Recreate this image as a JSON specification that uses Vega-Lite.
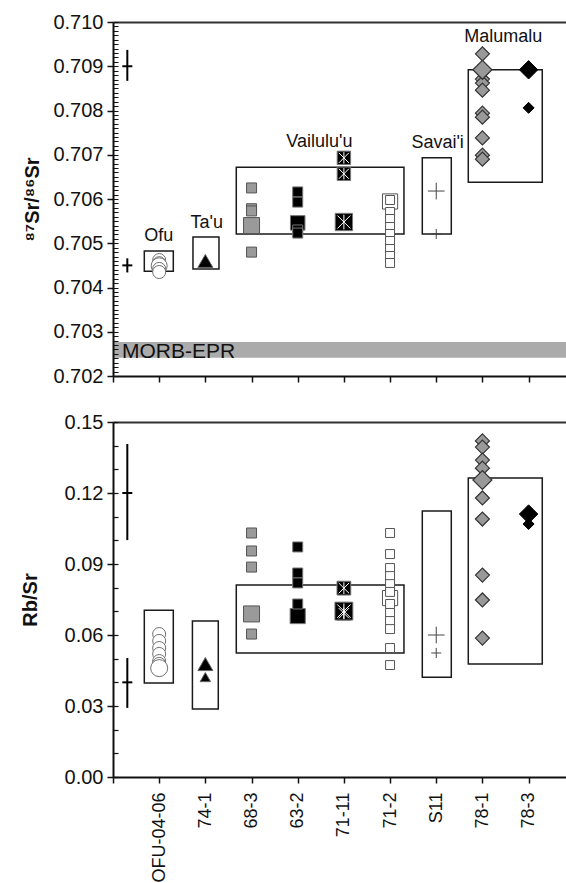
{
"$schema":"https://vega.github.io/schema/vega-lite/v6.json",
"background":"white",
"padding":{"left":20,"top":12,"right":0,"bottom":0},
"config":{"view":{"stroke":null},"font":"Liberation Sans","axis":{"labelFont":"Liberation Sans","titleFont":"Liberation Sans","labelColor":"#111","tickColor":"#111","domainColor":"#111","titleColor":"#111","grid":false}},
"datasets":{
"morb":[{"xlo":0,"xhi":9.81,"lo":0.70241,"hi":0.70277}],
"morbtext":[{"label":"MORB-EPR","pos":0.195,"value":0.702414}],
"ann":[{"label":"Ofu","pos":0.99,"value":0.70505},{"label":"Ta'u","pos":2.03,"value":0.70535},{"label":"Vailulu'u","pos":4.47,"value":0.70718},{"label":"Savai'i","pos":7.03,"value":0.70716},{"label":"Malumalu","pos":8.45,"value":0.709555}],
"boxes":[
{"panel":"Sr","xlo":0.678,"xhi":1.306,"lo":0.70437,"hi":0.704825},
{"panel":"Sr","xlo":1.732,"xhi":2.295,"lo":0.70442,"hi":0.70514},
{"panel":"Sr","xlo":2.67,"xhi":6.301,"lo":0.70521,"hi":0.70672},
{"panel":"Sr","xlo":6.698,"xhi":7.326,"lo":0.70521,"hi":0.70693},
{"panel":"Sr","xlo":7.694,"xhi":9.296,"lo":0.70638,"hi":0.70892},
{"panel":"Rb","xlo":0.678,"xhi":1.306,"lo":0.0397,"hi":0.0705},
{"panel":"Rb","xlo":1.72,"xhi":2.28,"lo":0.0287,"hi":0.0659},
{"panel":"Rb","xlo":2.67,"xhi":6.301,"lo":0.0524,"hi":0.0811},
{"panel":"Rb","xlo":6.698,"xhi":7.326,"lo":0.0422,"hi":0.1124},
{"panel":"Rb","xlo":7.694,"xhi":9.296,"lo":0.0477,"hi":0.1263}
],
"err":[
{"panel":"Sr","pos":0.31,"lo":0.70867,"mid":0.709,"hi":0.70937},
{"panel":"Sr","pos":0.31,"lo":0.70434,"mid":0.7045,"hi":0.70466},
{"panel":"Rb","pos":0.31,"lo":0.1001,"mid":0.12,"hi":0.1407},
{"panel":"Rb","pos":0.31,"lo":0.0292,"mid":0.04,"hi":0.0503}
],
"pts":[
{"panel":"Sr","sample":"OFU-04-06","pos":1,"value":0.70462,"kind":"single"},
{"panel":"Sr","sample":"OFU-04-06","pos":1,"value":0.70455,"kind":"single"},
{"panel":"Sr","sample":"OFU-04-06","pos":1,"value":0.70449,"kind":"mean"},
{"panel":"Sr","sample":"OFU-04-06","pos":1,"value":0.70442,"kind":"single"},
{"panel":"Sr","sample":"OFU-04-06","pos":1,"value":0.70435,"kind":"single"},
{"panel":"Sr","sample":"74-1","pos":2,"value":0.70462,"kind":"single"},
{"panel":"Sr","sample":"74-1","pos":2,"value":0.7046,"kind":"mean"},
{"panel":"Sr","sample":"68-3","pos":3,"value":0.70625,"kind":"single"},
{"panel":"Sr","sample":"68-3","pos":3,"value":0.70578,"kind":"single"},
{"panel":"Sr","sample":"68-3","pos":3,"value":0.70573,"kind":"single"},
{"panel":"Sr","sample":"68-3","pos":3,"value":0.7054,"kind":"mean"},
{"panel":"Sr","sample":"68-3","pos":3,"value":0.7048,"kind":"single"},
{"panel":"Sr","sample":"63-2","pos":4,"value":0.70616,"kind":"single"},
{"panel":"Sr","sample":"63-2","pos":4,"value":0.70593,"kind":"single"},
{"panel":"Sr","sample":"63-2","pos":4,"value":0.70546,"kind":"mean"},
{"panel":"Sr","sample":"63-2","pos":4,"value":0.7053,"kind":"single"},
{"panel":"Sr","sample":"63-2","pos":4,"value":0.70523,"kind":"single"},
{"panel":"Sr","sample":"71-11","pos":5,"value":0.70693,"kind":"single"},
{"panel":"Sr","sample":"71-11","pos":5,"value":0.70657,"kind":"single"},
{"panel":"Sr","sample":"71-11","pos":5,"value":0.70548,"kind":"mean"},
{"panel":"Sr","sample":"71-2","pos":6,"value":0.705944,"kind":"mean"},
{"panel":"Sr","sample":"71-2","pos":6,"value":0.705977,"kind":"single"},
{"panel":"Sr","sample":"71-2","pos":6,"value":0.705706,"kind":"single"},
{"panel":"Sr","sample":"71-2","pos":6,"value":0.705548,"kind":"single"},
{"panel":"Sr","sample":"71-2","pos":6,"value":0.705367,"kind":"single"},
{"panel":"Sr","sample":"71-2","pos":6,"value":0.705209,"kind":"single"},
{"panel":"Sr","sample":"71-2","pos":6,"value":0.705051,"kind":"single"},
{"panel":"Sr","sample":"71-2","pos":6,"value":0.70487,"kind":"single"},
{"panel":"Sr","sample":"71-2","pos":6,"value":0.704712,"kind":"single"},
{"panel":"Sr","sample":"71-2","pos":6,"value":0.704554,"kind":"single"},
{"panel":"Sr","sample":"S11","pos":7,"value":0.70618,"kind":"mean"},
{"panel":"Sr","sample":"S11","pos":7,"value":0.70521,"kind":"single"},
{"panel":"Sr","sample":"78-1","pos":8,"value":0.70928,"kind":"single"},
{"panel":"Sr","sample":"78-1","pos":8,"value":0.70871,"kind":"single"},
{"panel":"Sr","sample":"78-1","pos":8,"value":0.70862,"kind":"single"},
{"panel":"Sr","sample":"78-1","pos":8,"value":0.70846,"kind":"single"},
{"panel":"Sr","sample":"78-1","pos":8,"value":0.70794,"kind":"single"},
{"panel":"Sr","sample":"78-1","pos":8,"value":0.70785,"kind":"single"},
{"panel":"Sr","sample":"78-1","pos":8,"value":0.70738,"kind":"single"},
{"panel":"Sr","sample":"78-1","pos":8,"value":0.70699,"kind":"single"},
{"panel":"Sr","sample":"78-1","pos":8,"value":0.7069,"kind":"single"},
{"panel":"Sr","sample":"78-1","pos":8,"value":0.70892,"kind":"mean"},
{"panel":"Sr","sample":"78-3","pos":9,"value":0.70892,"kind":"mean"},
{"panel":"Sr","sample":"78-3","pos":9,"value":0.70806,"kind":"single"},
{"panel":"Rb","sample":"OFU-04-06","pos":1,"value":0.0604,"kind":"single"},
{"panel":"Rb","sample":"OFU-04-06","pos":1,"value":0.0575,"kind":"single"},
{"panel":"Rb","sample":"OFU-04-06","pos":1,"value":0.0545,"kind":"single"},
{"panel":"Rb","sample":"OFU-04-06","pos":1,"value":0.052,"kind":"single"},
{"panel":"Rb","sample":"OFU-04-06","pos":1,"value":0.049,"kind":"single"},
{"panel":"Rb","sample":"OFU-04-06","pos":1,"value":0.0478,"kind":"single"},
{"panel":"Rb","sample":"OFU-04-06","pos":1,"value":0.046,"kind":"mean"},
{"panel":"Rb","sample":"74-1","pos":2,"value":0.0477,"kind":"mean"},
{"panel":"Rb","sample":"74-1","pos":2,"value":0.0422,"kind":"single"},
{"panel":"Rb","sample":"68-3","pos":3,"value":0.1031,"kind":"single"},
{"panel":"Rb","sample":"68-3","pos":3,"value":0.0955,"kind":"single"},
{"panel":"Rb","sample":"68-3","pos":3,"value":0.0887,"kind":"single"},
{"panel":"Rb","sample":"68-3","pos":3,"value":0.0689,"kind":"mean"},
{"panel":"Rb","sample":"68-3","pos":3,"value":0.0604,"kind":"single"},
{"panel":"Rb","sample":"63-2","pos":4,"value":0.0972,"kind":"single"},
{"panel":"Rb","sample":"63-2","pos":4,"value":0.0862,"kind":"single"},
{"panel":"Rb","sample":"63-2","pos":4,"value":0.082,"kind":"single"},
{"panel":"Rb","sample":"63-2","pos":4,"value":0.068,"kind":"mean"},
{"panel":"Rb","sample":"63-2","pos":4,"value":0.0731,"kind":"single"},
{"panel":"Rb","sample":"71-11","pos":5,"value":0.0798,"kind":"single"},
{"panel":"Rb","sample":"71-11","pos":5,"value":0.0692,"kind":"single"},
{"panel":"Rb","sample":"71-11","pos":5,"value":0.0701,"kind":"mean"},
{"panel":"Rb","sample":"71-2","pos":6,"value":0.0756,"kind":"mean"},
{"panel":"Rb","sample":"71-2","pos":6,"value":0.1031,"kind":"single"},
{"panel":"Rb","sample":"71-2","pos":6,"value":0.0942,"kind":"single"},
{"panel":"Rb","sample":"71-2","pos":6,"value":0.0883,"kind":"single"},
{"panel":"Rb","sample":"71-2","pos":6,"value":0.0849,"kind":"single"},
{"panel":"Rb","sample":"71-2","pos":6,"value":0.0815,"kind":"single"},
{"panel":"Rb","sample":"71-2","pos":6,"value":0.0782,"kind":"single"},
{"panel":"Rb","sample":"71-2","pos":6,"value":0.0731,"kind":"single"},
{"panel":"Rb","sample":"71-2","pos":6,"value":0.0693,"kind":"single"},
{"panel":"Rb","sample":"71-2","pos":6,"value":0.0659,"kind":"single"},
{"panel":"Rb","sample":"71-2","pos":6,"value":0.0625,"kind":"single"},
{"panel":"Rb","sample":"71-2","pos":6,"value":0.0545,"kind":"single"},
{"panel":"Rb","sample":"71-2","pos":6,"value":0.0473,"kind":"single"},
{"panel":"Rb","sample":"S11","pos":7,"value":0.06,"kind":"mean"},
{"panel":"Rb","sample":"S11","pos":7,"value":0.0524,"kind":"single"},
{"panel":"Rb","sample":"78-1","pos":8,"value":0.142,"kind":"single"},
{"panel":"Rb","sample":"78-1","pos":8,"value":0.1394,"kind":"single"},
{"panel":"Rb","sample":"78-1","pos":8,"value":0.1339,"kind":"single"},
{"panel":"Rb","sample":"78-1","pos":8,"value":0.1305,"kind":"single"},
{"panel":"Rb","sample":"78-1","pos":8,"value":0.1179,"kind":"single"},
{"panel":"Rb","sample":"78-1","pos":8,"value":0.109,"kind":"single"},
{"panel":"Rb","sample":"78-1","pos":8,"value":0.0853,"kind":"single"},
{"panel":"Rb","sample":"78-1","pos":8,"value":0.0748,"kind":"single"},
{"panel":"Rb","sample":"78-1","pos":8,"value":0.0587,"kind":"single"},
{"panel":"Rb","sample":"78-1","pos":8,"value":0.1255,"kind":"mean"},
{"panel":"Rb","sample":"78-3","pos":9,"value":0.1111,"kind":"mean"},
{"panel":"Rb","sample":"78-3","pos":9,"value":0.1069,"kind":"single"}
]
},
"bounds":"flush",
"spacing":46,
"vconcat":[
{"width":453,"height":354,"resolve":{"axis":{"x":"independent","y":"independent"}},"layer":[
{"data":{"name":"morb"},"mark":{"type":"rect","fill":"#ababab"},"encoding":{
"x":{"field":"xlo","type":"quantitative","scale":{"domain":[0,9.81],"nice":false,"zero":false},"axis":{"orient":"bottom","values":[0,1,2,3,4,5,6,7,8,9],"labels":false,"tickSize":6,"tickWidth":1.5,"domainWidth":2,"title":null}},
"x2":{"field":"xhi"},
"y":{"field":"lo","type":"quantitative","scale":{"domain":[0.702,0.71],"nice":false,"zero":false},"axis":{"orient":"left","values":[0.702,0.703,0.704,0.705,0.706,0.707,0.708,0.709,0.71],"format":".3f","labelOverlap":false,"labelFontSize":20,"labelPadding":4,"tickSize":6,"tickWidth":1.5,"domainWidth":2,"zindex":1,"title":"⁸⁷Sr/⁸⁶Sr","titleFontSize":20,"titleFontWeight":"bold","titleX":-75,"titleBaseline":"alphabetic"}},
"y2":{"field":"hi"}}},
{"data":{"name":"morbtext"},"mark":{"type":"text","align":"left","baseline":"alphabetic","fontSize":21,"color":"#111"},"encoding":{"x":{"field":"pos","type":"quantitative","axis":{"orient":"top","ticks":false,"labels":false,"domainWidth":2,"domainColor":"#333","title":null}},"y":{"field":"value","type":"quantitative","axis":{"orient":"left","tickCount":80,"labels":false,"domain":false,"tickSize":-5,"tickWidth":1,"zindex":1,"title":null}},"text":{"field":"label"}}},
{"data":{"name":"boxes"},"transform":[{"filter":"datum.panel==='Sr'"}],"mark":{"type":"rect","filled":false,"stroke":"#1a1a1a","strokeWidth":1.5},"encoding":{"x":{"field":"xlo","type":"quantitative","axis":null},"x2":{"field":"xhi"},"y":{"field":"lo","type":"quantitative","axis":null},"y2":{"field":"hi"}}},
{"data":{"name":"err"},"transform":[{"filter":"datum.panel==='Sr'"}],"mark":{"type":"rule","strokeWidth":2,"color":"#000"},"encoding":{"x":{"field":"pos","type":"quantitative","axis":null},"y":{"field":"lo","type":"quantitative","axis":null},"y2":{"field":"hi"}}},
{"data":{"name":"err"},"transform":[{"filter":"datum.panel==='Sr'"}],"mark":{"type":"tick","orient":"horizontal","size":10,"thickness":2,"color":"#000","opacity":1},"encoding":{"x":{"field":"pos","type":"quantitative","axis":null},"y":{"field":"mid","type":"quantitative","axis":null}}},
{"data":{"name":"pts"},"transform":[{"filter":"datum.panel==='Sr' && datum.sample==='OFU-04-06'"}],"mark":{"type":"point","shape":"circle","filled":true,"fill":"white","stroke":"#707070","strokeWidth":1,"opacity":1},"encoding":{"x":{"field":"pos","type":"quantitative","axis":null},"y":{"field":"value","type":"quantitative","axis":null},"size":{"condition":{"test":"datum.kind==='mean'","value":256},"value":169}}},
{"data":{"name":"pts"},"transform":[{"filter":"datum.panel==='Sr' && datum.sample==='74-1'"}],"mark":{"type":"point","shape":"triangle-up","filled":true,"fill":"#000","stroke":"#666","strokeWidth":1,"opacity":1},"encoding":{"x":{"field":"pos","type":"quantitative","axis":null},"y":{"field":"value","type":"quantitative","axis":null},"size":{"condition":{"test":"datum.kind==='mean'","value":225},"value":110}}},
{"data":{"name":"pts"},"transform":[{"filter":"datum.panel==='Sr' && datum.sample==='68-3'"}],"mark":{"type":"point","shape":"square","filled":true,"fill":"#9a9a9a","stroke":"#555","strokeWidth":1,"opacity":1},"encoding":{"x":{"field":"pos","type":"quantitative","axis":null},"y":{"field":"value","type":"quantitative","axis":null},"size":{"condition":{"test":"datum.kind==='mean'","value":256},"value":100}}},
{"data":{"name":"pts"},"transform":[{"filter":"datum.panel==='Sr' && datum.sample==='63-2'"}],"mark":{"type":"point","shape":"square","filled":true,"fill":"#000","stroke":"#777","strokeWidth":1,"opacity":1},"encoding":{"x":{"field":"pos","type":"quantitative","axis":null},"y":{"field":"value","type":"quantitative","axis":null},"size":{"condition":{"test":"datum.kind==='mean'","value":210},"value":100}}},
{"data":{"name":"pts"},"transform":[{"filter":"datum.panel==='Sr' && datum.sample==='71-11'"}],"mark":{"type":"point","shape":"square","filled":true,"fill":"#000","stroke":"#777","strokeWidth":1,"opacity":1},"encoding":{"x":{"field":"pos","type":"quantitative","axis":null},"y":{"field":"value","type":"quantitative","axis":null},"size":{"condition":{"test":"datum.kind==='mean'","value":300},"value":180}}},
{"data":{"name":"pts"},"transform":[{"filter":"datum.panel==='Sr' && datum.sample==='71-11'"}],"mark":{"type":"point","shape":"M-0.75,-0.75L0.75,0.75M-0.75,0.75L0.75,-0.75M0,-0.85L0,0.85","filled":false,"stroke":"#fff","strokeWidth":1,"opacity":1},"encoding":{"x":{"field":"pos","type":"quantitative","axis":null},"y":{"field":"value","type":"quantitative","axis":null},"size":{"condition":{"test":"datum.kind==='mean'","value":300},"value":180}}},
{"data":{"name":"pts"},"transform":[{"filter":"datum.panel==='Sr' && datum.sample==='71-2'"}],"mark":{"type":"point","shape":"square","filled":true,"fill":"#fff","stroke":"#555","strokeWidth":1,"opacity":1},"encoding":{"x":{"field":"pos","type":"quantitative","axis":null},"y":{"field":"value","type":"quantitative","axis":null},"size":{"condition":{"test":"datum.kind==='mean'","value":230},"value":80}}},
{"data":{"name":"pts"},"transform":[{"filter":"datum.panel==='Sr' && datum.sample==='S11'"}],"mark":{"type":"point","shape":"M-1,0L1,0M0,-1L0,1","filled":false,"stroke":"#444","strokeWidth":1,"opacity":1},"encoding":{"x":{"field":"pos","type":"quantitative","axis":null},"y":{"field":"value","type":"quantitative","axis":null},"size":{"condition":{"test":"datum.kind==='mean'","value":280},"value":100}}},
{"data":{"name":"pts"},"transform":[{"filter":"datum.panel==='Sr' && datum.sample==='78-1'"}],"mark":{"type":"point","shape":"diamond","filled":true,"fill":"#999","stroke":"#333","strokeWidth":1.2,"opacity":1},"encoding":{"x":{"field":"pos","type":"quantitative","axis":null},"y":{"field":"value","type":"quantitative","axis":null},"size":{"condition":{"test":"datum.kind==='mean'","value":361},"value":196}}},
{"data":{"name":"pts"},"transform":[{"filter":"datum.panel==='Sr' && datum.sample==='78-3'"}],"mark":{"type":"point","shape":"diamond","filled":true,"fill":"#000","stroke":"#000","strokeWidth":1,"opacity":1},"encoding":{"x":{"field":"pos","type":"quantitative","axis":null},"y":{"field":"value","type":"quantitative","axis":null},"size":{"condition":{"test":"datum.kind==='mean'","value":340},"value":121}}},
{"data":{"name":"ann"},"mark":{"type":"text","align":"center","baseline":"alphabetic","fontSize":18,"color":"#111"},"encoding":{"x":{"field":"pos","type":"quantitative","axis":null},"y":{"field":"value","type":"quantitative","axis":null},"text":{"field":"label"}}}
]},
{"width":453,"height":355,"resolve":{"axis":{"x":"independent","y":"independent"}},"layer":[
{"data":{"name":"boxes"},"transform":[{"filter":"datum.panel==='Rb'"}],"mark":{"type":"rect","filled":false,"stroke":"#1a1a1a","strokeWidth":1.5},"encoding":{
"x":{"field":"xlo","type":"quantitative","scale":{"domain":[0,9.81],"nice":false,"zero":false},"axis":{"orient":"bottom","values":[0,1,2,3,4,5,6,7,8,9],"labelExpr":"['','OFU-04-06','74-1','68-3','63-2','71-11','71-2','S11','78-1','78-3'][datum.value]","labelAngle":270,"labelAlign":"right","labelBaseline":"middle","labelFontSize":18,"labelPadding":9,"labelOverlap":false,"labelFlush":false,"tickSize":6,"tickWidth":1.5,"domainWidth":2,"title":null}},
"x2":{"field":"xhi"},
"y":{"field":"lo","type":"quantitative","scale":{"domain":[0,0.15],"nice":false,"zero":false},"axis":{"orient":"left","values":[0,0.03,0.06,0.09,0.12,0.15],"format":".2f","labelOverlap":false,"labelFontSize":20,"labelPadding":4,"tickSize":6,"tickWidth":1.5,"domainWidth":2,"zindex":1,"title":"Rb/Sr","titleFontSize":20,"titleFontWeight":"bold","titleX":-77,"titleBaseline":"alphabetic"}},
"y2":{"field":"hi"}}},
{"data":{"name":"err"},"transform":[{"filter":"datum.panel==='Rb'"}],"mark":{"type":"rule","strokeWidth":2,"color":"#000"},"encoding":{"x":{"field":"pos","type":"quantitative","axis":{"orient":"top","ticks":false,"labels":false,"domainWidth":2,"domainColor":"#333","title":null}},"y":{"field":"lo","type":"quantitative","axis":{"orient":"left","tickCount":15,"labels":false,"domain":false,"tickSize":-5,"tickWidth":1.2,"zindex":1,"title":null}},"y2":{"field":"hi"}}},
{"data":{"name":"err"},"transform":[{"filter":"datum.panel==='Rb'"}],"mark":{"type":"tick","orient":"horizontal","size":10,"thickness":2,"color":"#000","opacity":1},"encoding":{"x":{"field":"pos","type":"quantitative","axis":null},"y":{"field":"mid","type":"quantitative","axis":null}}},
{"data":{"name":"pts"},"transform":[{"filter":"datum.panel==='Rb' && datum.sample==='OFU-04-06'"}],"mark":{"type":"point","shape":"circle","filled":true,"fill":"white","stroke":"#707070","strokeWidth":1,"opacity":1},"encoding":{"x":{"field":"pos","type":"quantitative","axis":null},"y":{"field":"value","type":"quantitative","axis":null},"size":{"condition":{"test":"datum.kind==='mean'","value":289},"value":169}}},
{"data":{"name":"pts"},"transform":[{"filter":"datum.panel==='Rb' && datum.sample==='74-1'"}],"mark":{"type":"point","shape":"triangle-up","filled":true,"fill":"#000","stroke":"#666","strokeWidth":1,"opacity":1},"encoding":{"x":{"field":"pos","type":"quantitative","axis":null},"y":{"field":"value","type":"quantitative","axis":null},"size":{"condition":{"test":"datum.kind==='mean'","value":225},"value":110}}},
{"data":{"name":"pts"},"transform":[{"filter":"datum.panel==='Rb' && datum.sample==='68-3'"}],"mark":{"type":"point","shape":"square","filled":true,"fill":"#9a9a9a","stroke":"#555","strokeWidth":1,"opacity":1},"encoding":{"x":{"field":"pos","type":"quantitative","axis":null},"y":{"field":"value","type":"quantitative","axis":null},"size":{"condition":{"test":"datum.kind==='mean'","value":256},"value":100}}},
{"data":{"name":"pts"},"transform":[{"filter":"datum.panel==='Rb' && datum.sample==='63-2'"}],"mark":{"type":"point","shape":"square","filled":true,"fill":"#000","stroke":"#777","strokeWidth":1,"opacity":1},"encoding":{"x":{"field":"pos","type":"quantitative","axis":null},"y":{"field":"value","type":"quantitative","axis":null},"size":{"condition":{"test":"datum.kind==='mean'","value":230},"value":100}}},
{"data":{"name":"pts"},"transform":[{"filter":"datum.panel==='Rb' && datum.sample==='71-11'"}],"mark":{"type":"point","shape":"square","filled":true,"fill":"#000","stroke":"#777","strokeWidth":1,"opacity":1},"encoding":{"x":{"field":"pos","type":"quantitative","axis":null},"y":{"field":"value","type":"quantitative","axis":null},"size":{"condition":{"test":"datum.kind==='mean'","value":320},"value":190}}},
{"data":{"name":"pts"},"transform":[{"filter":"datum.panel==='Rb' && datum.sample==='71-11'"}],"mark":{"type":"point","shape":"M-0.75,-0.75L0.75,0.75M-0.75,0.75L0.75,-0.75M0,-0.85L0,0.85","filled":false,"stroke":"#fff","strokeWidth":1,"opacity":1},"encoding":{"x":{"field":"pos","type":"quantitative","axis":null},"y":{"field":"value","type":"quantitative","axis":null},"size":{"condition":{"test":"datum.kind==='mean'","value":320},"value":190}}},
{"data":{"name":"pts"},"transform":[{"filter":"datum.panel==='Rb' && datum.sample==='71-2'"}],"mark":{"type":"point","shape":"square","filled":true,"fill":"#fff","stroke":"#555","strokeWidth":1,"opacity":1},"encoding":{"x":{"field":"pos","type":"quantitative","axis":null},"y":{"field":"value","type":"quantitative","axis":null},"size":{"condition":{"test":"datum.kind==='mean'","value":230},"value":80}}},
{"data":{"name":"pts"},"transform":[{"filter":"datum.panel==='Rb' && datum.sample==='S11'"}],"mark":{"type":"point","shape":"M-1,0L1,0M0,-1L0,1","filled":false,"stroke":"#444","strokeWidth":1,"opacity":1},"encoding":{"x":{"field":"pos","type":"quantitative","axis":null},"y":{"field":"value","type":"quantitative","axis":null},"size":{"condition":{"test":"datum.kind==='mean'","value":280},"value":100}}},
{"data":{"name":"pts"},"transform":[{"filter":"datum.panel==='Rb' && datum.sample==='78-1'"}],"mark":{"type":"point","shape":"diamond","filled":true,"fill":"#999","stroke":"#333","strokeWidth":1.2,"opacity":1},"encoding":{"x":{"field":"pos","type":"quantitative","axis":null},"y":{"field":"value","type":"quantitative","axis":null},"size":{"condition":{"test":"datum.kind==='mean'","value":361},"value":196}}},
{"data":{"name":"pts"},"transform":[{"filter":"datum.panel==='Rb' && datum.sample==='78-3'"}],"mark":{"type":"point","shape":"diamond","filled":true,"fill":"#000","stroke":"#000","strokeWidth":1,"opacity":1},"encoding":{"x":{"field":"pos","type":"quantitative","axis":null},"y":{"field":"value","type":"quantitative","axis":null},"size":{"condition":{"test":"datum.kind==='mean'","value":340},"value":121}}}
]}
]
}
